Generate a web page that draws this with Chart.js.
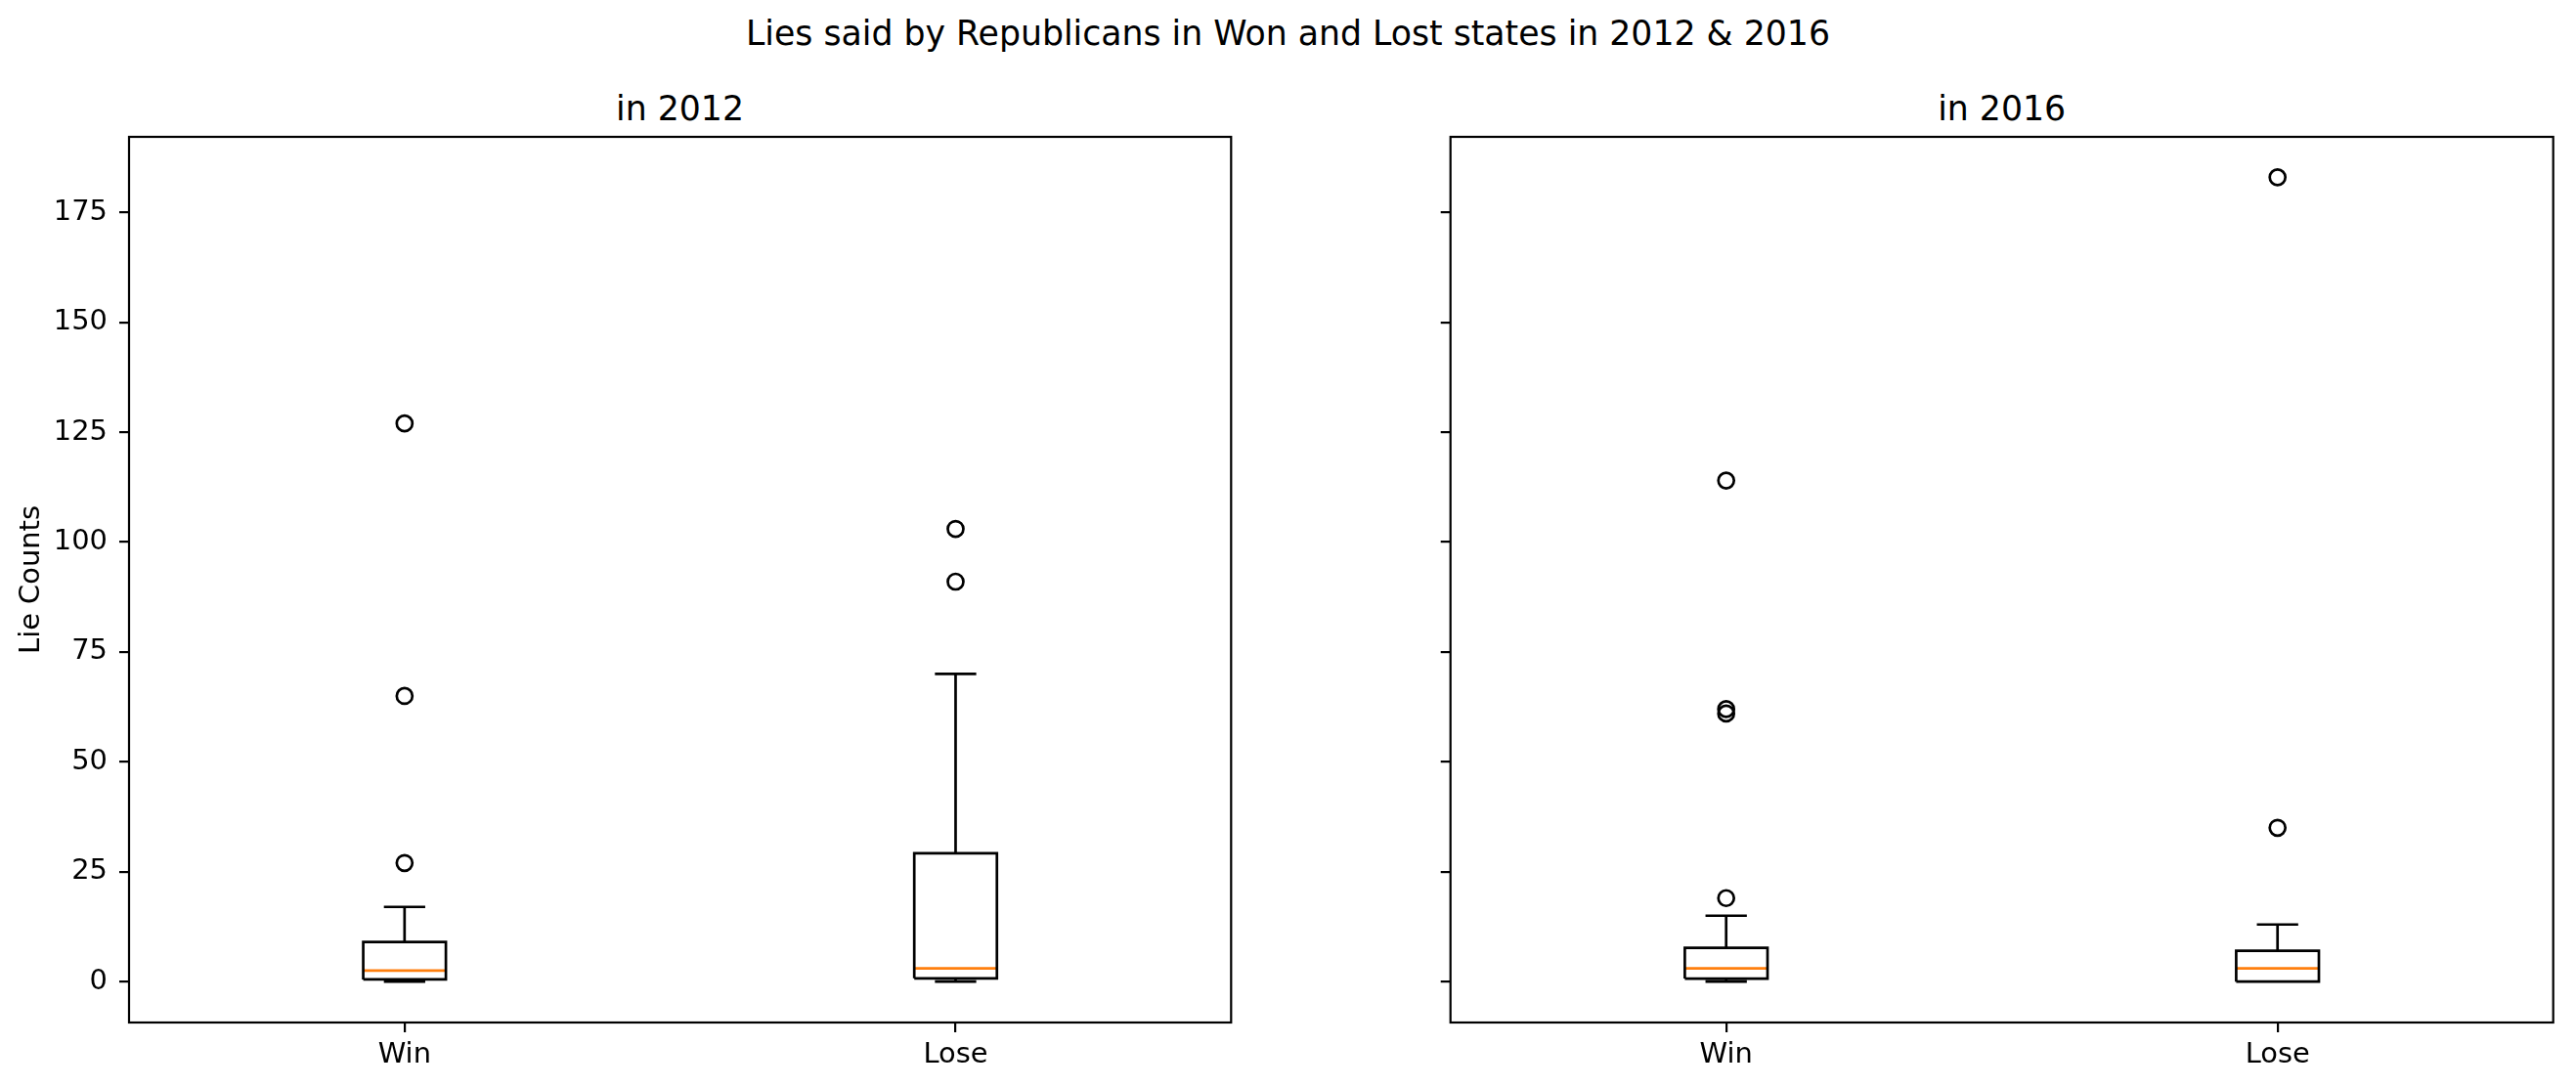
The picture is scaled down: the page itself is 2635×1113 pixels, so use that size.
<!DOCTYPE html>
<html><head><meta charset="utf-8">
<script src="https://cdn.jsdelivr.net/npm/chart.js"></script>
<style>
html,body{margin:0;padding:0;background:#fff;width:2635px;height:1113px;overflow:hidden;font-family:"DejaVu Sans";}
canvas{position:absolute;top:0;}
#c1{left:0;}
#c2{left:1300px;}
.t{position:absolute;font-size:34.7px;line-height:40px;white-space:nowrap;transform:translateX(-50%);color:#000;font-family:"DejaVu Sans";}
</style></head>
<body>
<div class="t" style="left:1317.5px;top:13.7px">Lies said by Republicans in Won and Lost states in 2012 &amp; 2016</div>
<div class="t" style="left:695.5px;top:91px">in 2012</div>
<div class="t" style="left:2047.7px;top:91px">in 2016</div>
<canvas id="c1" width="1300" height="1113"></canvas>
<canvas id="c2" width="1335" height="1113"></canvas>
<script>
// ---- data ----
const categories = ['Win', 'Lose'];
const positions = [1, 2];
const yTicks = [0, 25, 50, 75, 100, 125, 150, 175];

const q1_2012 = [0.5, 0.75];
const med_2012 = [2.5, 3];
const q3_2012 = [9, 29.2];
const lo_2012 = [0, 0];
const hi_2012 = [17, 70];
const out_2012 = [[27, 65, 127], [91, 103]];

const q1_2016 = [0.7, 0];
const med_2016 = [3, 3];
const q3_2016 = [7.7, 7];
const lo_2016 = [0, 0];
const hi_2016 = [15, 13];
const out_2016 = [[19, 61, 62, 114], [35, 183]];

// ---- helpers ----
const FONT = 'DejaVu Sans';
const BOX_HALF = 0.075, CAP_HALF = 0.0375;
const LW = 2.7;

function buildDatasets(q1, med, q3, lo, hi, outs) {
  const black = [], orange = [], pts = [];
  positions.forEach((p, i) => {
    black.push({x: p - BOX_HALF, y: q1[i]}, {x: p + BOX_HALF, y: q1[i]},
               {x: p + BOX_HALF, y: q3[i]}, {x: p - BOX_HALF, y: q3[i]},
               {x: p - BOX_HALF, y: q1[i]}, {x: p, y: null});
    black.push({x: p, y: q1[i]}, {x: p, y: lo[i]}, {x: p, y: null});
    black.push({x: p, y: q3[i]}, {x: p, y: hi[i]}, {x: p, y: null});
    black.push({x: p - CAP_HALF, y: lo[i]}, {x: p + CAP_HALF, y: lo[i]}, {x: p, y: null});
    black.push({x: p - CAP_HALF, y: hi[i]}, {x: p + CAP_HALF, y: hi[i]}, {x: p, y: null});
    orange.push({x: p - BOX_HALF, y: med[i]}, {x: p + BOX_HALF, y: med[i]}, {x: p, y: null});
    outs[i].forEach(v => pts.push({x: p, y: v}));
  });
  return [
    {data: black, showLine: true, borderColor: '#000', borderWidth: LW, pointRadius: 0, spanGaps: false, tension: 0, borderJoinStyle: 'miter', borderCapStyle: 'butt'},
    {data: orange, showLine: true, borderColor: '#ff7f0e', borderWidth: LW, pointRadius: 0, spanGaps: false, tension: 0, borderCapStyle: 'butt'},
    {data: pts, showLine: false, pointStyle: 'circle', pointRadius: 8, pointBorderWidth: 2.7, pointBorderColor: '#000', pointBackgroundColor: 'rgba(0,0,0,0)'}
  ];
}

const frame = {
  id: 'frame',
  afterDraw(chart) {
    const {ctx, chartArea: a} = chart;
    ctx.save();
    ctx.strokeStyle = '#000';
    ctx.lineWidth = 2.2;
    ctx.strokeRect(a.left, a.top, a.right - a.left, a.bottom - a.top);
    ctx.restore();
  }
};

function makeChart(id, sets, yWidth, padRight, showYLabels) {
  return new Chart(document.getElementById(id), {
    type: 'scatter',
    data: {datasets: sets},
    plugins: [frame],
    options: {
      responsive: false,
      animation: false,
      events: [],
      layout: {padding: {left: 0, right: padRight, top: 140, bottom: 0}},
      plugins: {legend: {display: false}, tooltip: {enabled: false}, title: {display: false}},
      scales: {
        x: {
          type: 'linear', min: 0.5, max: 2.5,
          afterBuildTicks: s => { s.ticks = positions.map(v => ({value: v})); },
          afterFit: s => { s.height = 67; },
          ticks: {callback: (v, i) => categories[i], font: {family: FONT, size: 28.9}, color: '#000', padding: 6.5, maxRotation: 0, autoSkip: false},
          grid: {drawOnChartArea: false, drawTicks: true, tickLength: 10, color: '#000', lineWidth: 2.2},
          border: {display: false}
        },
        y: {
          type: 'linear', min: -9.3, max: 192.2,
          afterBuildTicks: s => { s.ticks = yTicks.map(v => ({value: v})); },
          afterFit: s => { s.width = yWidth; },
          ticks: {callback: v => showYLabels ? String(v) : '', font: {family: FONT, size: 28.9}, color: '#000', padding: 12, autoSkip: false},
          grid: {drawOnChartArea: false, drawTicks: true, tickLength: 10, color: '#000', lineWidth: 2.2},
          border: {display: false},
          title: {display: showYLabels, text: 'Lie Counts', color: '#000', font: {family: FONT, size: 28.9, lineHeight: 1.2}, padding: {top: 14.7, bottom: 0}}
        }
      }
    }
  });
}

makeChart('c1', buildDatasets(q1_2012, med_2012, q3_2012, lo_2012, hi_2012, out_2012), 132, 40.7, true);
makeChart('c2', buildDatasets(q1_2016, med_2016, q3_2016, lo_2016, hi_2016, out_2016), 183.7, 23.3, false);
</script>
</body></html>
